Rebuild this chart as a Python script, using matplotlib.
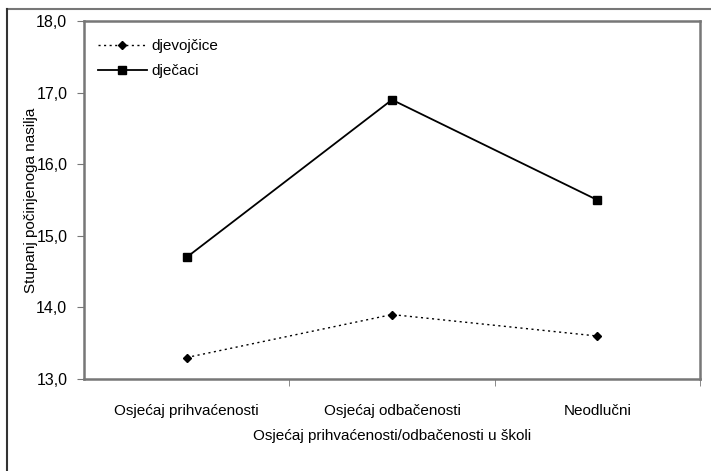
import matplotlib.pyplot as plt
from matplotlib.lines import Line2D

plt.rcParams['font.family'] = ['Liberation Sans Narrow', 'Liberation Sans', 'DejaVu Sans']

categories = ['Osjećaj prihvaćenosti', 'Osjećaj odbačenosti', 'Neodlučni']
djevojcice = [13.3, 13.9, 13.6]
djecaci = [14.7, 16.9, 15.5]
y_ticks = [13.0, 14.0, 15.0, 16.0, 17.0, 18.0]

W, H = 711, 471
fig = plt.figure(figsize=(W / 100, H / 100), dpi=100)
ax = fig.add_axes([84 / W, 1 - 379 / H, (700 - 84) / W, (379 - 21) / H])

x = list(range(len(categories)))
ax.plot(x, djevojcice, color='black', linestyle=(0, (1.5, 2.5)), linewidth=1,
        marker='D', markersize=4.5, label='djevojčice')
ax.plot(x, djecaci, color='black', linestyle='-', linewidth=1.3,
        marker='s', markersize=5.5, label='dječaci')

ax.set_xlim(-0.5, len(categories) - 0.5)
ax.set_ylim(13, 18)
ax.set_yticks(y_ticks)
ax.set_yticklabels([f'{v:.1f}'.replace('.', ',') for v in y_ticks], fontsize=11.5)
ax.set_xticks(x)
ax.set_xticklabels(categories, fontsize=11)
ax.tick_params(axis='x', length=0, pad=18)
ax.set_xticks([0.5, 1.5, 2.5], minor=True)
ax.tick_params(axis='x', which='minor', length=5, direction='out', color='#777777')
ax.tick_params(axis='y', length=5, direction='out', color='#777777', pad=7)

for s in ax.spines.values():
    s.set_color('#777777')
    s.set_linewidth(1.8)

ax.set_xlabel('Osjećaj prihvaćenosti/odbačenosti u školi', fontsize=11, labelpad=8)
ax.set_ylabel('Stupanj počinjenoga nasilja', fontsize=11)
ax.yaxis.set_label_coords(-0.075, 0.5)

ax.legend(loc='upper left', frameon=False, fontsize=11, handlelength=3.2,
          handletextpad=0.3, labelspacing=0.75, borderaxespad=0.3,
          bbox_to_anchor=(0.005, 0.98))

# outer frame (top and left only)
fig.add_artist(Line2D([7 / W, 1], [1 - 9 / H, 1 - 9 / H], color='#777777', linewidth=1.5))
fig.add_artist(Line2D([7 / W, 7 / W], [0, 1 - 9 / H], color='#333333', linewidth=1.5))

fig.savefig('out.png', dpi=100)
